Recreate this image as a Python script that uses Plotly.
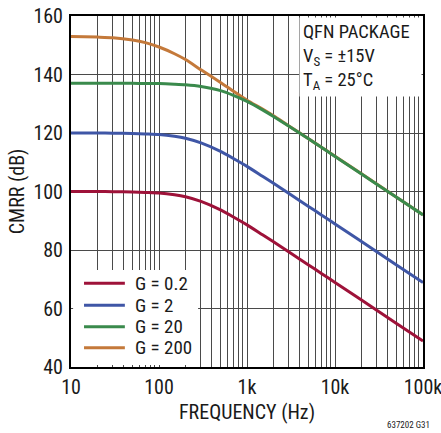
import plotly.graph_objects as go

freq = [10, 20, 30, 50, 70, 100, 150, 200, 300, 500, 700, 1000, 1500, 2000,
        3000, 5000, 7000, 10000, 20000, 50000, 100000]

cmrr_g0p2 = [100.0, 100.0, 99.95, 99.86, 99.7, 99.5, 98.9, 98.2, 96.6, 93.7, 91.3,
             88.6, 85.2, 82.8, 79.3, 74.9, 72.0, 68.9, 62.9, 54.9, 48.9]
cmrr_g2 = [120.0, 120.0, 119.95, 119.86, 119.7, 119.5, 118.9, 118.2, 116.6, 113.7, 111.3,
           108.6, 105.2, 102.8, 99.3, 94.9, 92.0, 88.9, 82.9, 74.9, 68.9]
cmrr_g20 = [137.0, 137.0, 137.0, 137.0, 136.9, 136.9, 136.7, 136.5, 135.9, 134.5, 132.9,
            130.8, 127.9, 125.65, 122.3, 118.0, 115.1, 112.0, 106.0, 98.0, 92.0]
cmrr_g200 = [153.0, 152.8, 152.6, 151.8, 150.9, 149.4, 147.1, 145.1, 141.6, 137.3, 134.3,
             131.2, 128.2, 125.9, 122.4, 118.05, 115.15, 112.05, 106.05, 98.05, 92.05]

series_names = ["G = 0.2", "G = 2", "G = 20", "G = 200"]
series_colors = ["#9E1239", "#3F56A6", "#3A8A4C", "#C4793A"]

x_tick_vals = [10, 100, 1000, 10000, 100000]
x_tick_text = ["10", "100", "1k", "10k", "100k"]
x_minor_vals = [m * d for d in [10, 100, 1000, 10000] for m in range(2, 10)]
y_tick_vals = [40, 60, 80, 100, 120, 140, 160]

FONT = "Roboto Condensed, Liberation Sans Narrow, Arial Narrow, DejaVu Sans Condensed, Liberation Sans, Arial, sans-serif"
TXT = "#1a1a1a"

fig = go.Figure()
data = [cmrr_g0p2, cmrr_g2, cmrr_g20, cmrr_g200]
# draw order: red, blue, orange, green (green on top of orange where they merge)
for idx in [0, 1, 3, 2]:
    fig.add_trace(go.Scatter(
        x=freq, y=data[idx], mode="lines", name=series_names[idx],
        line=dict(color=series_colors[idx], width=3, shape="spline", smoothing=0.6),
        showlegend=False, hoverinfo="skip",
    ))

fig.update_layout(
    width=441, height=433,
    margin=dict(l=71, r=18, t=16, b=66, autoexpand=False),
    paper_bgcolor="white", plot_bgcolor="white",
    font=dict(family=FONT, size=20, color=TXT),
    showlegend=False,
)

fig.update_xaxes(
    type="log", range=[1, 5],
    tickmode="array", tickvals=x_tick_vals, ticktext=x_tick_text,
    showgrid=True, gridcolor="#4a4a4a", gridwidth=1,
    minor=dict(tickmode="array", tickvals=x_minor_vals, showgrid=True,
               gridcolor="#4a4a4a", gridwidth=1),
    showline=True, linecolor="black", linewidth=2, mirror=True,
    ticks="", ticklen=0, ticklabelstandoff=1, automargin=False,
    ticklabeloverflow="allow",
    zeroline=False, tickfont=dict(size=20),
)
fig.update_yaxes(
    range=[40, 160], tickmode="array", tickvals=y_tick_vals,
    showgrid=True, gridcolor="#4a4a4a", gridwidth=1,
    showline=True, linecolor="black", linewidth=2, mirror=True,
    ticks="", ticklen=0, ticklabelstandoff=2, automargin=False,
    ticklabeloverflow="allow",
    zeroline=False, tickfont=dict(size=20),
)

# Legend panel (white box covering the grid, bottom-left)
fig.add_shape(type="rect", xref="paper", yref="paper",
              x0=0.006, x1=0.361, y0=0.006, y1=0.276,
              fillcolor="white", line=dict(width=0), layer="above")
legend_rows_y = [0.2385, 0.1758, 0.1148, 0.0550]
for name, color, yy in zip(series_names, series_colors, legend_rows_y):
    fig.add_shape(type="line", xref="paper", yref="paper",
                  x0=0.037, x1=0.153, y0=yy, y1=yy,
                  line=dict(color=color, width=3), layer="above")
    fig.add_annotation(xref="paper", yref="paper", x=0.177, y=yy,
                       xanchor="left", yanchor="middle", text=name,
                       showarrow=False, font=dict(size=19))

fig.add_annotation(
    xref="paper", yref="paper", x=1, y=1, xanchor="right", yanchor="top",
    xshift=-1, yshift=-1, width=115, height=72,
    text="QFN PACKAGE<br>V<sub>S</sub> = ±15V<br>T<sub>A</sub> = 25°C",
    showarrow=False, align="left", valign="middle", bgcolor="white", borderpad=3,
    font=dict(size=18.5),
)
fig.add_annotation(
    xref="paper", yref="paper", x=-0.154, y=0.5, xanchor="center", yanchor="middle",
    text="CMRR (dB)", textangle=-90, showarrow=False, font=dict(size=20),
)
fig.add_annotation(
    xref="paper", yref="paper", x=0.5, y=-0.127, xanchor="center", yanchor="middle",
    text="FREQUENCY (Hz)", showarrow=False, font=dict(size=20),
)
fig.add_annotation(
    xref="paper", yref="paper", x=1.0247, y=-0.165, xanchor="right", yanchor="middle",
    text="637202 G31", showarrow=False, font=dict(size=9),
)

fig.write_html("out.html", config={"displayModeBar": False},
               post_script="document.body.style.margin='0';document.body.style.overflow='hidden';")
